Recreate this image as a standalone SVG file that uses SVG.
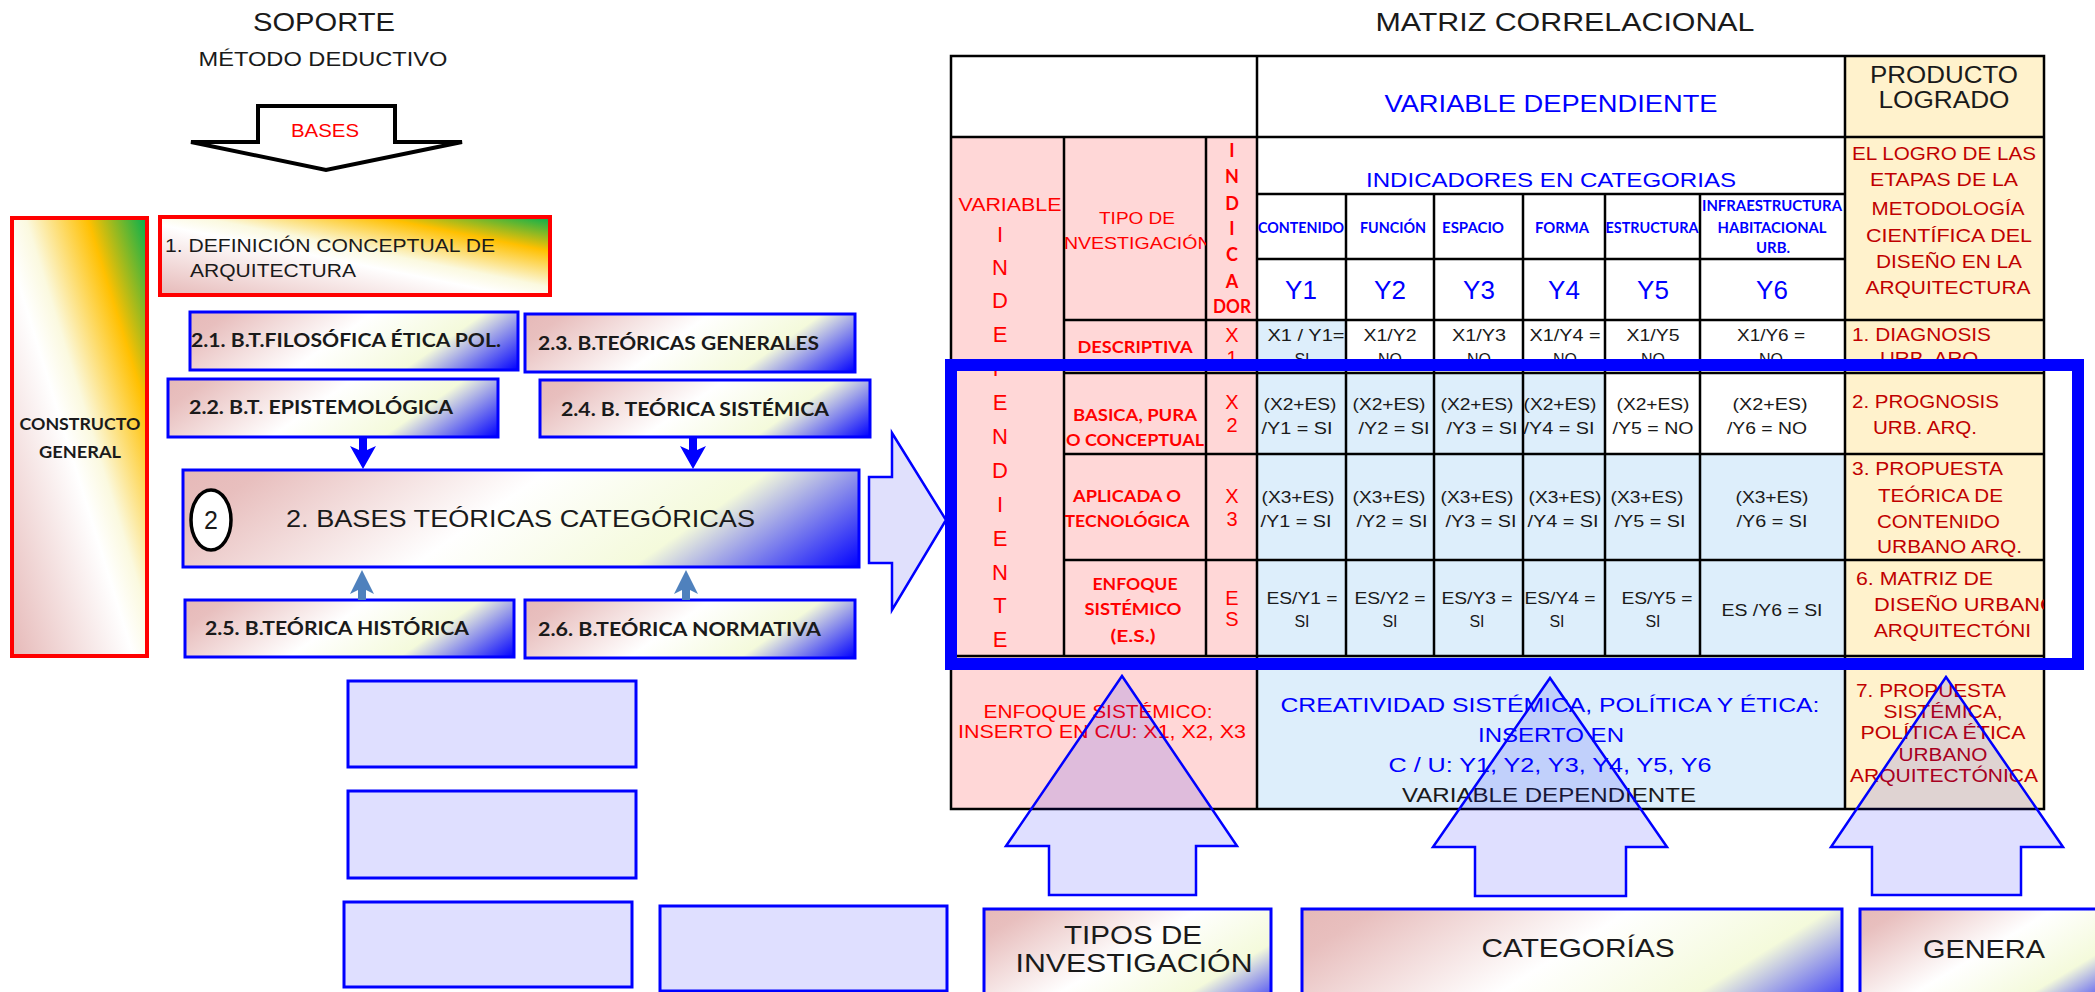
<svg xmlns="http://www.w3.org/2000/svg" xmlns:xlink="http://www.w3.org/1999/xlink" width="2095" height="992" viewBox="0 0 2095 992">
<defs>
<style>
text{font-family:"Liberation Sans",Arial,sans-serif;fill:#1a1a1a;}
.b{font-family:Lato,"Liberation Sans",sans-serif;font-weight:bold;}
.m{text-anchor:middle;}
.red{fill:#ff0000;}
.dred{fill:#c00000;}
.blu{fill:#0000ff;}
.bbox{stroke:#0000ff;stroke-width:3;}
.rbox{stroke:#ff0000;stroke-width:4;}
.lav{fill:#0000ff;fill-opacity:0.125;stroke:#0000ff;stroke-width:3;}
.bigup{fill:#0000ff;fill-opacity:0.125;stroke:#0000ff;stroke-width:2.5;}
.grid{stroke:#000;stroke-width:2.5;fill:none;}
</style>
<linearGradient id="gRYG" x1="0" y1="1" x2="1" y2="0">
<stop offset="0" stop-color="#e6b9b8"/>
<stop offset="0.45" stop-color="#ffffff"/>
<stop offset="0.55" stop-color="#fbf9df"/>
<stop offset="0.78" stop-color="#ffc000"/>
<stop offset="1" stop-color="#00b050"/>
</linearGradient>
<linearGradient id="gB">
<stop offset="0" stop-color="#e6b9b8"/>
<stop offset="0.1" stop-color="#e8bfbe"/>
<stop offset="0.45" stop-color="#ffffff"/>
<stop offset="0.72" stop-color="#f4fadb"/>
<stop offset="1" stop-color="#0000ff"/>
</linearGradient>
<linearGradient id="gB1" xlink:href="#gB" gradientUnits="userSpaceOnUse" x1="190" y1="312" x2="325" y2="505"/>
<linearGradient id="gB2" xlink:href="#gB" gradientUnits="userSpaceOnUse" x1="525" y1="314" x2="661" y2="508"/>
<linearGradient id="gB3" xlink:href="#gB" gradientUnits="userSpaceOnUse" x1="168" y1="379" x2="304" y2="573"/>
<linearGradient id="gB4" xlink:href="#gB" gradientUnits="userSpaceOnUse" x1="540" y1="380" x2="675" y2="573"/>
<linearGradient id="gB5" xlink:href="#gB" gradientUnits="userSpaceOnUse" x1="183" y1="470" x2="451" y2="853"/>
<linearGradient id="gB6" xlink:href="#gB" gradientUnits="userSpaceOnUse" x1="185" y1="600" x2="320" y2="793"/>
<linearGradient id="gB7" xlink:href="#gB" gradientUnits="userSpaceOnUse" x1="525" y1="600" x2="661" y2="794"/>
<linearGradient id="gB8" xlink:href="#gB" gradientUnits="userSpaceOnUse" x1="984" y1="909" x2="1110" y2="1120"/>
<linearGradient id="gB9" xlink:href="#gB" gradientUnits="userSpaceOnUse" x1="1302" y1="909" x2="1510" y2="1240"/>
<linearGradient id="gB10" xlink:href="#gB" gradientUnits="userSpaceOnUse" x1="1860" y1="909" x2="1975" y2="1100"/>
<clipPath id="cTipo"><rect x="1064" y="137" width="142" height="183"/></clipPath>
<clipPath id="cP6"><rect x="1845" y="560" width="199" height="96"/></clipPath>
</defs>

<rect x="0" y="0" width="2095" height="992" fill="#ffffff"/>

<g id="titulo-soporte">
<text x="324" y="31" font-size="26" class="m" textLength="142" lengthAdjust="spacingAndGlyphs">SOPORTE</text>
<text x="323" y="66" font-size="21" class="m" textLength="249" lengthAdjust="spacingAndGlyphs">MÉTODO DEDUCTIVO</text>
</g>
<g id="titulo-matriz">
<text x="1565" y="31" font-size="26" class="m" textLength="379" lengthAdjust="spacingAndGlyphs">MATRIZ CORRELACIONAL</text>
</g>

<g id="bases">
<path d="M258 106 H395 V142 H462 L326 170 L191 142 H258 Z" fill="#ffffff" stroke="#000000" stroke-width="4"/>
<text x="325" y="137" font-size="18" class="m red" textLength="68" lengthAdjust="spacingAndGlyphs">BASES</text>
</g>

<g id="constructo-general">
<rect x="12" y="218" width="135" height="438" fill="url(#gRYG)" class="rbox"/>
<text x="80" y="430" font-size="17" class="b m" textLength="121" lengthAdjust="spacingAndGlyphs">CONSTRUCTO</text>
<text x="80" y="458" font-size="17" class="b m" textLength="82" lengthAdjust="spacingAndGlyphs">GENERAL</text>
</g>

<g id="definicion">
<rect x="160" y="217" width="390" height="78" fill="url(#gRYG)" class="rbox"/>
<text x="165" y="252" font-size="19" textLength="330" lengthAdjust="spacingAndGlyphs">1. DEFINICIÓN CONCEPTUAL DE</text>
<text x="190" y="277" font-size="19" textLength="166" lengthAdjust="spacingAndGlyphs">ARQUITECTURA</text>
</g>

<g id="bt21">
<rect x="190" y="312" width="328" height="58" fill="url(#gB1)" class="bbox"/>
<text x="191" y="347" font-size="19" class="b" textLength="310" lengthAdjust="spacingAndGlyphs">2.1. B.T.FILOSÓFICA ÉTICA POL.</text>
</g>
<g id="bt23">
<rect x="525" y="314" width="330" height="58" fill="url(#gB2)" class="bbox"/>
<text x="538" y="350" font-size="19" class="b" textLength="281" lengthAdjust="spacingAndGlyphs">2.3. B.TEÓRICAS GENERALES</text>
</g>
<g id="bt22">
<rect x="168" y="379" width="330" height="58" fill="url(#gB3)" class="bbox"/>
<text x="189" y="414" font-size="19" class="b" textLength="264" lengthAdjust="spacingAndGlyphs">2.2. B.T. EPISTEMOLÓGICA</text>
</g>
<g id="bt24">
<rect x="540" y="380" width="330" height="57" fill="url(#gB4)" class="bbox"/>
<text x="561" y="416" font-size="19" class="b" textLength="268" lengthAdjust="spacingAndGlyphs">2.4. B. TEÓRICA SISTÉMICA</text>
</g>
<g id="bt2">
<rect x="183" y="470" width="676" height="97" fill="url(#gB5)" class="bbox"/>
<ellipse cx="211" cy="520" rx="20" ry="30" fill="#ffffff" stroke="#000000" stroke-width="3.5"/>
<text x="211" y="529" font-size="25" class="m">2</text>
<text x="286" y="527" font-size="24" textLength="469" lengthAdjust="spacingAndGlyphs">2. BASES TEÓRICAS CATEGÓRICAS</text>
</g>
<g id="bt25">
<rect x="185" y="600" width="329" height="57" fill="url(#gB6)" class="bbox"/>
<text x="205" y="635" font-size="19" class="b" textLength="264" lengthAdjust="spacingAndGlyphs">2.5. B.TEÓRICA HISTÓRICA</text>
</g>
<g id="bt26">
<rect x="525" y="600" width="330" height="58" fill="url(#gB7)" class="bbox"/>
<text x="538" y="636" font-size="19" class="b" textLength="283" lengthAdjust="spacingAndGlyphs">2.6. B.TEÓRICA NORMATIVA</text>
</g>

<g id="caja-a"><rect x="348" y="681" width="288" height="86" class="lav"/></g>
<g id="caja-b"><rect x="348" y="791" width="288" height="87" class="lav"/></g>
<g id="caja-c"><rect x="344" y="902" width="288" height="85" class="lav"/></g>
<g id="caja-d"><rect x="660" y="906" width="287" height="85" class="lav"/></g>

<g id="matriz">
<rect x="951" y="56" width="1093" height="753" fill="#ffffff"/>
<rect x="951" y="137" width="306" height="672" fill="#ffd7d7"/>
<rect x="1845" y="56" width="199" height="753" fill="#fff2cc"/>
<g fill="#ddeefb">
<rect x="1257" y="320" width="89" height="53"/>
<rect x="1257" y="373" width="348" height="81"/>
<rect x="1257" y="454" width="588" height="355"/>
</g>
<path class="grid" d="M951 56 H2044 V809 H951 Z M951 137 H2044 M1257 194 H1845 M1257 259 H1845 M1064 320 H2044 M1064 373 H2044 M1064 454 H2044 M1064 560 H2044 M951 656 H2044 M1064 137 V656 M1206 137 V656 M1257 56 V809 M1346 194 V656 M1434 194 V656 M1523 194 V656 M1605 194 V656 M1700 194 V656 M1845 56 V809"/>

<text x="1551" y="112" font-size="24" class="m blu" textLength="333" lengthAdjust="spacingAndGlyphs">VARIABLE DEPENDIENTE</text>
<text x="1944" y="83" font-size="23" class="m" textLength="148" lengthAdjust="spacingAndGlyphs">PRODUCTO</text>
<text x="1944" y="108" font-size="23" class="m" textLength="131" lengthAdjust="spacingAndGlyphs">LOGRADO</text>
<text x="1551" y="187" font-size="21" class="m blu" textLength="370" lengthAdjust="spacingAndGlyphs">INDICADORES EN CATEGORIAS</text>

<g font-size="15">
<text x="1301" y="233" class="b m blu" textLength="86" lengthAdjust="spacingAndGlyphs">CONTENIDO</text>
<text x="1393" y="233" class="b m blu" textLength="66" lengthAdjust="spacingAndGlyphs">FUNCIÓN</text>
<text x="1473" y="233" class="b m blu" textLength="62" lengthAdjust="spacingAndGlyphs">ESPACIO</text>
<text x="1562" y="233" class="b m blu" textLength="54" lengthAdjust="spacingAndGlyphs">FORMA</text>
<text x="1652" y="233" class="b m blu" textLength="93" lengthAdjust="spacingAndGlyphs">ESTRUCTURA</text>
<text x="1772" y="211" class="b m blu" textLength="140" lengthAdjust="spacingAndGlyphs">INFRAESTRUCTURA</text>
<text x="1772" y="233" class="b m blu" textLength="109" lengthAdjust="spacingAndGlyphs">HABITACIONAL</text>
<text x="1773" y="253" class="b m blu" textLength="34" lengthAdjust="spacingAndGlyphs">URB.</text>
</g>
<g font-size="26">
<text x="1301" y="299" class="m blu">Y1</text>
<text x="1390" y="299" class="m blu">Y2</text>
<text x="1479" y="299" class="m blu">Y3</text>
<text x="1564" y="299" class="m blu">Y4</text>
<text x="1653" y="299" class="m blu">Y5</text>
<text x="1772" y="299" class="m blu">Y6</text>
</g>

<text x="1010" y="211" font-size="18" class="m red" textLength="103" lengthAdjust="spacingAndGlyphs">VARIABLE</text>
<g font-size="22">
<text x="1000" y="242" class="m red">I</text>
<text x="1000" y="275" class="m red">N</text>
<text x="1000" y="308" class="m red">D</text>
<text x="1000" y="342" class="m red">E</text>
<text x="1000" y="376" class="m red">P</text>
<text x="1000" y="410" class="m red">E</text>
<text x="1000" y="444" class="m red">N</text>
<text x="1000" y="478" class="m red">D</text>
<text x="1000" y="512" class="m red">I</text>
<text x="1000" y="546" class="m red">E</text>
<text x="1000" y="580" class="m red">N</text>
<text x="1000" y="613" class="m red">T</text>
<text x="1000" y="647" class="m red">E</text>
</g>

<text x="1137" y="224" font-size="17" class="m red" textLength="76" lengthAdjust="spacingAndGlyphs">TIPO DE</text>
<g clip-path="url(#cTipo)">
<text x="1135" y="249" font-size="17" class="m red" textLength="153" lengthAdjust="spacingAndGlyphs">INVESTIGACIÓN</text>
</g>

<g font-size="18">
<text x="1232" y="157" class="b m red">I</text>
<text x="1232" y="183" class="b m red">N</text>
<text x="1232" y="210" class="b m red">D</text>
<text x="1232" y="235" class="b m red">I</text>
<text x="1232" y="261" class="b m red">C</text>
<text x="1232" y="288" class="b m red">A</text>
<text x="1232" y="313" class="b m red" textLength="38" lengthAdjust="spacingAndGlyphs">DOR</text>
</g>

<g font-size="17">
<text x="1135" y="353" class="b m red" textLength="115" lengthAdjust="spacingAndGlyphs">DESCRIPTIVA</text>
<text x="1135" y="421" class="b m red" textLength="124" lengthAdjust="spacingAndGlyphs">BASICA, PURA</text>
<text x="1135" y="446" class="b m red" textLength="138" lengthAdjust="spacingAndGlyphs">O CONCEPTUAL</text>
<text x="1127" y="502" class="b m red" textLength="108" lengthAdjust="spacingAndGlyphs">APLICADA O</text>
<text x="1127" y="527" class="b m red" textLength="125" lengthAdjust="spacingAndGlyphs">TECNOLÓGICA</text>
<text x="1135" y="590" class="b m red" textLength="85" lengthAdjust="spacingAndGlyphs">ENFOQUE</text>
<text x="1133" y="615" class="b m red" textLength="97" lengthAdjust="spacingAndGlyphs">SISTÉMICO</text>
<text x="1133" y="642" class="b m red" textLength="45" lengthAdjust="spacingAndGlyphs">(E.S.)</text>
</g>

<g font-size="20">
<text x="1232" y="342" class="m red">X</text>
<text x="1232" y="365" class="m red">1</text>
<text x="1232" y="409" class="m red">X</text>
<text x="1232" y="432" class="m red">2</text>
<text x="1232" y="503" class="m red">X</text>
<text x="1232" y="526" class="m red">3</text>
<text x="1232" y="605" class="m red">E</text>
<text x="1232" y="626" class="m red">S</text>
</g>

<g font-size="16">
<text x="1306" y="341" class="m" textLength="77" lengthAdjust="spacingAndGlyphs">X1 / Y1=</text>
<text x="1302" y="365" class="m">SI</text>
<text x="1390" y="341" class="m" textLength="53" lengthAdjust="spacingAndGlyphs">X1/Y2</text>
<text x="1390" y="365" class="m">NO</text>
<text x="1479" y="341" class="m" textLength="54" lengthAdjust="spacingAndGlyphs">X1/Y3</text>
<text x="1479" y="365" class="m">NO</text>
<text x="1565" y="341" class="m" textLength="71" lengthAdjust="spacingAndGlyphs">X1/Y4 =</text>
<text x="1565" y="365" class="m">NO</text>
<text x="1653" y="341" class="m" textLength="53" lengthAdjust="spacingAndGlyphs">X1/Y5</text>
<text x="1653" y="365" class="m">NO</text>
<text x="1771" y="341" class="m" textLength="68" lengthAdjust="spacingAndGlyphs">X1/Y6 =</text>
<text x="1771" y="365" class="m">NO</text>

<text x="1300" y="410" class="m" textLength="73" lengthAdjust="spacingAndGlyphs">(X2+ES)</text>
<text x="1297" y="434" class="m" textLength="71" lengthAdjust="spacingAndGlyphs">/Y1 = SI</text>
<text x="1389" y="410" class="m" textLength="73" lengthAdjust="spacingAndGlyphs">(X2+ES)</text>
<text x="1394" y="434" class="m" textLength="71" lengthAdjust="spacingAndGlyphs">/Y2 = SI</text>
<text x="1477" y="410" class="m" textLength="73" lengthAdjust="spacingAndGlyphs">(X2+ES)</text>
<text x="1482" y="434" class="m" textLength="71" lengthAdjust="spacingAndGlyphs">/Y3 = SI</text>
<text x="1560" y="410" class="m" textLength="73" lengthAdjust="spacingAndGlyphs">(X2+ES)</text>
<text x="1559" y="434" class="m" textLength="71" lengthAdjust="spacingAndGlyphs">/Y4 = SI</text>
<text x="1653" y="410" class="m" textLength="73" lengthAdjust="spacingAndGlyphs">(X2+ES)</text>
<text x="1653" y="434" class="m" textLength="81" lengthAdjust="spacingAndGlyphs">/Y5 = NO</text>
<text x="1770" y="410" class="m" textLength="75" lengthAdjust="spacingAndGlyphs">(X2+ES)</text>
<text x="1767" y="434" class="m" textLength="80" lengthAdjust="spacingAndGlyphs">/Y6 = NO</text>

<text x="1298" y="503" class="m" textLength="73" lengthAdjust="spacingAndGlyphs">(X3+ES)</text>
<text x="1296" y="527" class="m" textLength="71" lengthAdjust="spacingAndGlyphs">/Y1 = SI</text>
<text x="1389" y="503" class="m" textLength="73" lengthAdjust="spacingAndGlyphs">(X3+ES)</text>
<text x="1392" y="527" class="m" textLength="71" lengthAdjust="spacingAndGlyphs">/Y2 = SI</text>
<text x="1477" y="503" class="m" textLength="73" lengthAdjust="spacingAndGlyphs">(X3+ES)</text>
<text x="1481" y="527" class="m" textLength="71" lengthAdjust="spacingAndGlyphs">/Y3 = SI</text>
<text x="1565" y="503" class="m" textLength="73" lengthAdjust="spacingAndGlyphs">(X3+ES)</text>
<text x="1563" y="527" class="m" textLength="71" lengthAdjust="spacingAndGlyphs">/Y4 = SI</text>
<text x="1647" y="503" class="m" textLength="73" lengthAdjust="spacingAndGlyphs">(X3+ES)</text>
<text x="1650" y="527" class="m" textLength="71" lengthAdjust="spacingAndGlyphs">/Y5 = SI</text>
<text x="1772" y="503" class="m" textLength="73" lengthAdjust="spacingAndGlyphs">(X3+ES)</text>
<text x="1772" y="527" class="m" textLength="71" lengthAdjust="spacingAndGlyphs">/Y6 = SI</text>

<text x="1302" y="604" class="m" textLength="71" lengthAdjust="spacingAndGlyphs">ES/Y1 =</text>
<text x="1302" y="627" class="m">SI</text>
<text x="1390" y="604" class="m" textLength="71" lengthAdjust="spacingAndGlyphs">ES/Y2 =</text>
<text x="1390" y="627" class="m">SI</text>
<text x="1477" y="604" class="m" textLength="71" lengthAdjust="spacingAndGlyphs">ES/Y3 =</text>
<text x="1477" y="627" class="m">SI</text>
<text x="1560" y="604" class="m" textLength="71" lengthAdjust="spacingAndGlyphs">ES/Y4 =</text>
<text x="1557" y="627" class="m">SI</text>
<text x="1657" y="604" class="m" textLength="71" lengthAdjust="spacingAndGlyphs">ES/Y5 =</text>
<text x="1653" y="627" class="m">SI</text>
<text x="1772" y="616" class="m" textLength="101" lengthAdjust="spacingAndGlyphs">ES /Y6 = SI</text>
</g>

<g font-size="19">
<text x="1944" y="160" class="m dred" textLength="184" lengthAdjust="spacingAndGlyphs">EL LOGRO DE LAS</text>
<text x="1944" y="186" class="m dred" textLength="148" lengthAdjust="spacingAndGlyphs">ETAPAS DE LA</text>
<text x="1948" y="215" class="m dred" textLength="153" lengthAdjust="spacingAndGlyphs">METODOLOGÍA</text>
<text x="1949" y="242" class="m dred" textLength="166" lengthAdjust="spacingAndGlyphs">CIENTÍFICA DEL</text>
<text x="1949" y="268" class="m dred" textLength="146" lengthAdjust="spacingAndGlyphs">DISEÑO EN LA</text>
<text x="1948" y="294" class="m dred" textLength="165" lengthAdjust="spacingAndGlyphs">ARQUITECTURA</text>
<text x="1852" y="341" class="dred" textLength="139" lengthAdjust="spacingAndGlyphs">1. DIAGNOSIS</text>
<text x="1880" y="365" class="dred" textLength="104" lengthAdjust="spacingAndGlyphs">URB. ARQ.</text>
<text x="1852" y="408" class="dred" textLength="147" lengthAdjust="spacingAndGlyphs">2. PROGNOSIS</text>
<text x="1873" y="434" class="dred" textLength="104" lengthAdjust="spacingAndGlyphs">URB. ARQ.</text>
<text x="1852" y="475" class="dred" textLength="151" lengthAdjust="spacingAndGlyphs">3. PROPUESTA</text>
<text x="1878" y="502" class="dred" textLength="125" lengthAdjust="spacingAndGlyphs">TEÓRICA DE</text>
<text x="1877" y="528" class="dred" textLength="123" lengthAdjust="spacingAndGlyphs">CONTENIDO</text>
<text x="1877" y="553" class="dred" textLength="145" lengthAdjust="spacingAndGlyphs">URBANO ARQ.</text>
<text x="1856" y="585" class="dred" textLength="137" lengthAdjust="spacingAndGlyphs">6. MATRIZ DE</text>
<g clip-path="url(#cP6)">
<text x="1874" y="611" class="dred" textLength="183" lengthAdjust="spacingAndGlyphs">DISEÑO URBANO</text>
<text x="1874" y="637" class="dred" textLength="157" lengthAdjust="spacingAndGlyphs">ARQUITECTÓNI</text>
</g>
</g>

<g font-size="18">
<text x="1098" y="718" class="m red" textLength="229" lengthAdjust="spacingAndGlyphs">ENFOQUE SISTÉMICO:</text>
<text x="1102" y="738" class="m red" textLength="288" lengthAdjust="spacingAndGlyphs">INSERTO EN C/U: X1, X2, X3</text>
</g>
<g font-size="20">
<text x="1550" y="712" class="m blu" textLength="539" lengthAdjust="spacingAndGlyphs">CREATIVIDAD SISTÉMICA, POLÍTICA Y ÉTICA:</text>
<text x="1551" y="742" class="m blu" textLength="146" lengthAdjust="spacingAndGlyphs">INSERTO EN</text>
<text x="1550" y="772" class="m blu" textLength="323" lengthAdjust="spacingAndGlyphs">C / U: Y1, Y2, Y3, Y4, Y5, Y6</text>
<text x="1549" y="802" class="m" textLength="294" lengthAdjust="spacingAndGlyphs">VARIABLE DEPENDIENTE</text>
</g>
<g font-size="18">
<text x="1931" y="697" class="m dred" textLength="150" lengthAdjust="spacingAndGlyphs">7. PROPUESTA</text>
<text x="1943" y="718" class="m dred" textLength="119" lengthAdjust="spacingAndGlyphs">SISTÉMICA,</text>
<text x="1943" y="739" class="m dred" textLength="165" lengthAdjust="spacingAndGlyphs">POLÍTICA ÉTICA</text>
<text x="1943" y="761" class="m dred" textLength="89" lengthAdjust="spacingAndGlyphs">URBANO</text>
<text x="1944" y="782" class="m dred" textLength="188" lengthAdjust="spacingAndGlyphs">ARQUITECTÓNICA</text>
</g>
</g>

<g id="marco-seleccion">
<rect x="951" y="365" width="1127" height="299" fill="none" stroke="#0000ff" stroke-width="12"/>
</g>

<g id="tipos-investigacion">
<rect x="984" y="909" width="287" height="90" fill="url(#gB8)" class="bbox"/>
<text x="1133" y="944" font-size="25" class="m" textLength="138" lengthAdjust="spacingAndGlyphs">TIPOS DE</text>
<text x="1134" y="972" font-size="25" class="m" textLength="237" lengthAdjust="spacingAndGlyphs">INVESTIGACIÓN</text>
</g>
<g id="categorias">
<rect x="1302" y="909" width="540" height="90" fill="url(#gB9)" class="bbox"/>
<text x="1578" y="957" font-size="25" class="m" textLength="193" lengthAdjust="spacingAndGlyphs">CATEGORÍAS</text>
</g>
<g id="genera">
<rect x="1860" y="909" width="240" height="90" fill="url(#gB10)" class="bbox"/>
<text x="1984" y="958" font-size="25" class="m" textLength="122" lengthAdjust="spacingAndGlyphs">GENERA</text>
</g>

<g id="connectors">
<path d="M359 437 H367 V450 L376 446 L363 469 L350 446 L359 450 Z" fill="#0000ff"/>
<path d="M689 437 H697 V450 L706 446 L693 469 L680 446 L689 450 Z" fill="#0000ff"/>
<path d="M358 600 V590 L350 594 L362 570 L374 594 L366 590 V600 Z" fill="#4f81bd"/>
<path d="M682 600 V590 L674 594 L686 570 L698 594 L690 590 V600 Z" fill="#4f81bd"/>
<path d="M869 477 H892 V433 L946 520 L892 610 V563 H869 Z" fill="#e0e0fc" stroke="#0000ff" stroke-width="2.5"/>
<path class="bigup" d="M1122 676 L1237 846 H1196 V895 H1049 V846 H1006 Z"/>
<path class="bigup" d="M1550 678 L1667 847 H1626 V896 H1475 V847 H1433 Z"/>
<path class="bigup" d="M1946 677 L2063 847 H2021 V895 H1872 V847 H1831 Z"/>
</g>
</svg>
